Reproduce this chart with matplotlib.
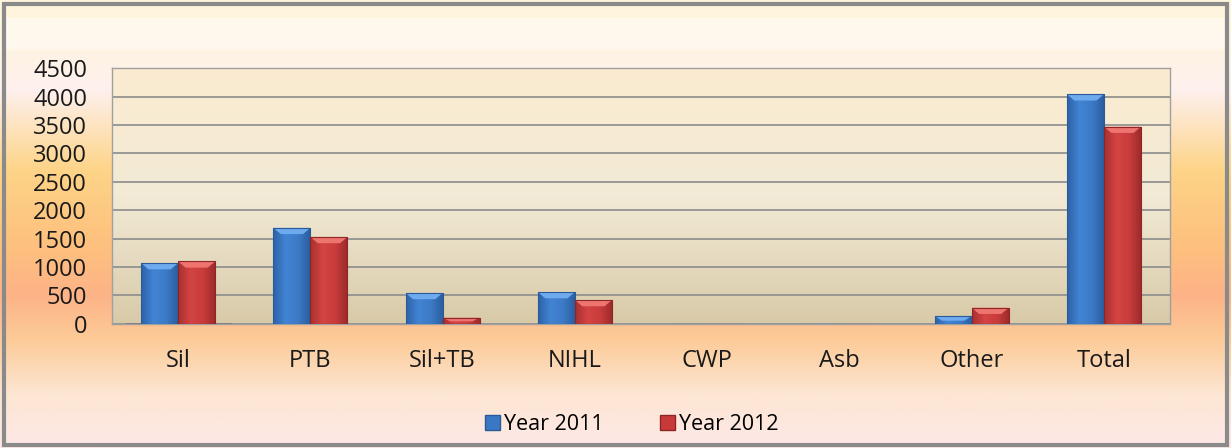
import numpy as np
import matplotlib.pyplot as plt
from matplotlib.colors import LinearSegmentedColormap
from matplotlib.patches import Rectangle, Polygon

categories = ['Sil', 'PTB', 'Sil+TB', 'NIHL', 'CWP', 'Asb', 'Other', 'Total']
year_2011 = [1070, 1690, 545, 560, 0, 5, 140, 4040]
year_2012 = [1100, 1530, 110, 420, 0, 0, 285, 3470]
y_ticks = [0, 500, 1000, 1500, 2000, 2500, 3000, 3500, 4000, 4500]

plt.rcParams['font.family'] = ['Open Sans', 'DejaVu Sans']

fig = plt.figure(figsize=(12.31, 4.48), dpi=100)

# outer chart background: vertical gradient (top -> bottom)
bg = fig.add_axes([0, 0, 1, 1], zorder=-10)
bg_cmap = LinearSegmentedColormap.from_list('bg', [
    (0.0, '#fff6dc'), (0.12, '#fff3e4'), (0.2, '#fef0ee'),
    (0.38, '#fdd488'), (0.55, '#fdc07e'), (0.66, '#fdb387'),
    (0.76, '#fccb98'), (0.88, '#fde6d2'), (1.0, '#fde8e8')])
bg.imshow(np.linspace(0, 1, 256).reshape(-1, 1), aspect='auto', cmap=bg_cmap,
          extent=[0, 1, 0, 1])
bg.set_xlim(0, 1)
bg.set_ylim(0, 1)
bg.axis('off')
# top highlight strip and frame
bg.add_patch(Rectangle((0.005, 0.89), 0.99, 0.07, color='white', alpha=0.45, lw=0,
                       transform=bg.transAxes))
bg.add_patch(Rectangle((0.003, 0.006), 0.994, 0.985, fill=False,
                       edgecolor='#8a8a8a', lw=3, transform=bg.transAxes))

ax = fig.add_axes([0.091, 0.277, 0.8595, 0.571])
plot_cmap = LinearSegmentedColormap.from_list('plot', ['#fbecd0', '#f2ead6', '#d8caa8'])
x = np.arange(len(categories))
ax.imshow(np.linspace(0, 1, 256).reshape(-1, 1), aspect='auto', cmap=plot_cmap,
          extent=[-0.5, len(categories) - 0.5, 0, 4500], zorder=0)

blue_cmap = LinearSegmentedColormap.from_list('b', ['#2d62a8', '#4284d4', '#3c7ac6', '#2a5c9e'])
red_cmap = LinearSegmentedColormap.from_list('r', ['#a83030', '#d44444', '#c83c3c', '#9c2a2a'])

w = 0.28
series = [(year_2011, -w / 2, blue_cmap, '#6eaaee', '#2a5a98'),
          (year_2012, w / 2, red_cmap, '#ee7470', '#8e2626')]
for vals, off, cmap, cap, edge in series:
    bars = ax.bar(x + off, vals, w, color='none', edgecolor=edge, lw=0.8, zorder=5)
    for b, v in zip(bars, vals):
        if v <= 0:
            continue
        x0, x1 = b.get_x(), b.get_x() + b.get_width()
        im = ax.imshow(np.linspace(0, 1, 64).reshape(1, -1), aspect='auto', cmap=cmap,
                       extent=[x0, x1, 0, v], zorder=3)
        im.set_clip_path(b)
        h = min(v * 0.6, 110)
        d = b.get_width() * 0.2
        ax.add_patch(Polygon([(x0, v), (x1, v), (x1 - d, v - h), (x0 + d, v - h)],
                             closed=True, color=cap, lw=0, zorder=4))

ax.bar([0], [0], color='#3a78c6', edgecolor='#2a5a98', label='Year 2011')
ax.bar([0], [0], color='#c83a3a', edgecolor='#8e2626', label='Year 2012')

ax.set_xlim(-0.5, len(categories) - 0.5)
ax.set_ylim(0, 4500)
ax.set_yticks(y_ticks)
ax.set_xticks(x)
ax.set_xticklabels(categories)
ax.tick_params(axis='both', length=0, labelsize=17, colors='#1a1a1a')
ax.tick_params(axis='x', pad=18)
ax.tick_params(axis='y', pad=18)
ax.yaxis.grid(True, color='#8c8c8c', lw=1.2, zorder=1)
ax.set_axisbelow(True)
for s in ax.spines.values():
    s.set_color('#a0a0a0')
    s.set_linewidth(1)

fig.legend(loc='center', bbox_to_anchor=(0.513, 0.053), ncol=2, frameon=False,
           fontsize=15.5, handlelength=0.7, handleheight=0.7, handletextpad=0.2,
           columnspacing=2.6)

fig.savefig('out.png', dpi=100)
